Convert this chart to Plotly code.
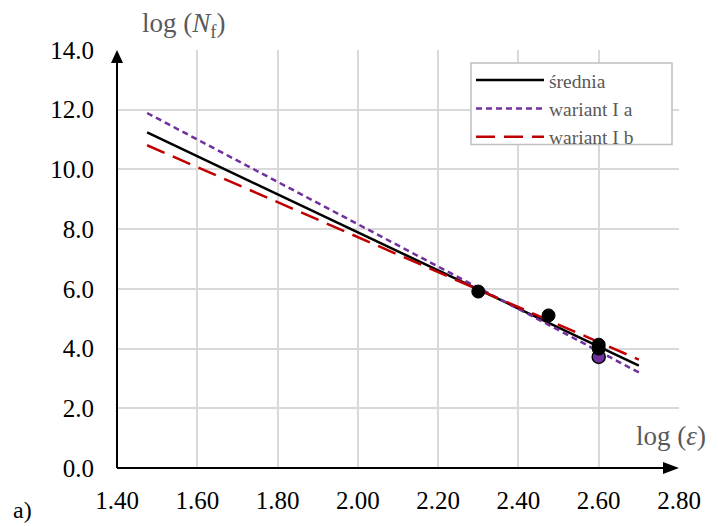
import plotly.graph_objects as go

# Regression lines (endpoints)
line_x = [1.475, 2.70]
srednia_y = [11.24, 3.43]
wariant_a_y = [11.89, 3.20]
wariant_b_y = [10.81, 3.63]

# Measured points
pts_x = [2.30, 2.475, 2.60, 2.60]
pts_y = [5.91, 5.11, 4.13, 4.00]
pts2_x = [2.60]
pts2_y = [3.72]

x_ticks = [1.40, 1.60, 1.80, 2.00, 2.20, 2.40, 2.60, 2.80]
y_ticks = [0, 2, 4, 6, 8, 10, 12, 14]

FONT = "Liberation Serif, Times New Roman, serif"
GRAY = "#595959"

fig = go.Figure()
fig.add_trace(go.Scatter(x=line_x, y=srednia_y, mode="lines", name="średnia",
                         line=dict(color="black", width=2.5)))
fig.add_trace(go.Scatter(x=line_x, y=wariant_a_y, mode="lines", name="wariant I a",
                         line=dict(color="#7030A0", width=2.5, dash="6px,4px")))
fig.add_trace(go.Scatter(x=line_x, y=wariant_b_y, mode="lines", name="wariant I b",
                         line=dict(color="#C00000", width=2.5, dash="19px,9px")))
fig.add_trace(go.Scatter(x=pts2_x, y=pts2_y, mode="markers", showlegend=False,
                         marker=dict(color="#7030A0", size=13, line=dict(color="black", width=1.5))))
fig.add_trace(go.Scatter(x=pts_x, y=pts_y, mode="markers", showlegend=False,
                         marker=dict(color="black", size=13, line=dict(color="black", width=1))))

px = lambda v: (v - 117) / 562
py = lambda v: (470 - v) / 420

fig.update_layout(
    width=718, height=526,
    margin=dict(l=117, r=39, t=50, b=56),
    plot_bgcolor="white", paper_bgcolor="white",
    font=dict(family=FONT, size=20, color="black"),
    showlegend=True,
    legend=dict(x=px(471), y=py(61), xanchor="left", yanchor="top",
                bgcolor="rgba(0,0,0,0)", borderwidth=0,
                font=dict(family=FONT, size=19.5, color=GRAY), itemwidth=68),
    xaxis=dict(range=[1.40, 2.80], tickvals=x_ticks, tickformat=".2f",
               showgrid=True, gridcolor="#D9D9D9", gridwidth=1.5,
               zeroline=False, showline=False, ticks="",
               tickfont=dict(family=FONT, size=25, color="black"), ticklabelstandoff=15),
    yaxis=dict(range=[0, 14], tickvals=y_ticks, tickformat=".1f",
               showgrid=True, gridcolor="#D9D9D9", gridwidth=1.5,
               zeroline=False, showline=False, ticks="",
               tickfont=dict(family=FONT, size=25, color="black"), ticklabelstandoff=22),
    shapes=[
        # legend box
        dict(type="rect", xref="paper", yref="paper", layer="above",
             x0=px(471), x1=px(672), y0=py(145), y1=py(63),
             fillcolor="white", line=dict(color="#BFBFBF", width=1.5)),
        # y axis with arrowhead
        dict(type="line", xref="paper", yref="paper", x0=0, y0=0, x1=0, y1=0.97,
             line=dict(color="black", width=2)),
        dict(type="path", xref="paper", yref="paper", fillcolor="black", line=dict(width=0),
             path=f"M {-6/562} {py(63)} L {6/562} {py(63)} L 0 1.0 Z"),
        # x axis with arrowhead
        dict(type="line", xref="paper", yref="paper", x0=0, y0=0, x1=0.975, y1=0,
             line=dict(color="black", width=2)),
        dict(type="path", xref="paper", yref="paper", fillcolor="black", line=dict(width=0),
             path=f"M {px(663)} {6/420} L {px(663)} {-6/420} L 1.0 0 Z"),
    ],
)

fig.add_annotation(x=px(184), y=py(25), xref="paper", yref="paper",
                   text="log (<i>N</i><sub>f</sub>)", showarrow=False,
                   font=dict(family=FONT, size=27, color=GRAY), xanchor="center", yanchor="middle")
fig.add_annotation(x=px(671), y=py(438), xref="paper", yref="paper",
                   text="log (<i>ε</i>)", showarrow=False,
                   font=dict(family=FONT, size=27, color=GRAY), xanchor="center", yanchor="middle")
fig.add_annotation(x=px(22), y=py(512), xref="paper", yref="paper",
                   text="a)", showarrow=False,
                   font=dict(family=FONT, size=24, color="black"), xanchor="center", yanchor="middle")

fig.write_html("out.html")
